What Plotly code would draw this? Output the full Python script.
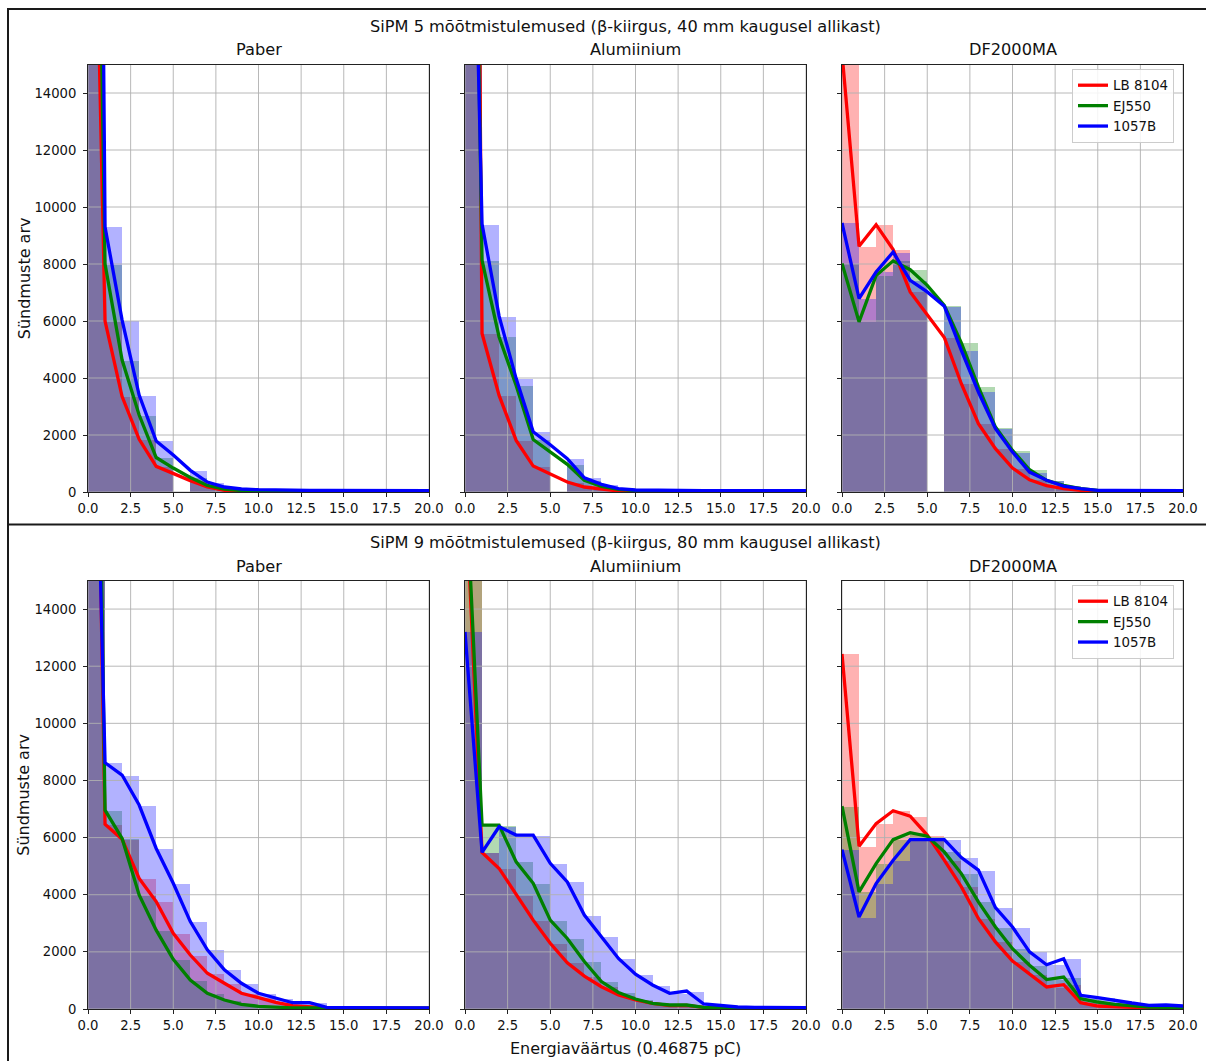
import plotly.graph_objects as go

# ---------------- data ----------------
bin_edges = list(range(21))          # histogram bin left edges (width 1) / line x positions
x_ticks = [0, 2.5, 5, 7.5, 10, 12.5, 15, 17.5, 20]
x_tick_labels = ["0.0", "2.5", "5.0", "7.5", "10.0", "12.5", "15.0", "17.5", "20.0"]
y_ticks = [0, 2000, 4000, 6000, 8000, 10000, 12000, 14000]
y_tick_labels = ["0", "2000", "4000", "6000", "8000", "10000", "12000", "14000"]

series_names = ["LB 8104", "EJ550", "1057B"]
materials = ["Paber", "Alumiinium", "DF2000MA"]
row_titles = ["SiPM 5 mõõtmistulemused (β-kiirgus, 40 mm kaugusel allikast)",
              "SiPM 9 mõõtmistulemused (β-kiirgus, 80 mm kaugusel allikast)"]
y_label = "Sündmuste arv"
x_label = "Energiaväärtus (0.46875 pC)"

# SiPM 5 (40 mm)
sipm5_paber_lb8104 = [33500, 6000, 3350, 1850, 900, 640, 400, 175, 60, 30, 25, 20, 20, 20, 20, 20, 20, 20, 20, 20, 20]
sipm5_paber_ej550 = [45000, 8000, 4630, 2700, 1210, 840, 510, 230, 105, 50, 40, 35, 30, 30, 30, 30, 30, 30, 30, 30, 30]
sipm5_paber_1057b = [80000, 9300, 6030, 3400, 1790, 1300, 760, 350, 175, 105, 80, 65, 60, 55, 55, 50, 50, 50, 50, 50, 50]

sipm5_alum_lb8104 = [80000, 5560, 3390, 1810, 910, 620, 350, 175, 95, 35, 30, 25, 20, 20, 20, 20, 20, 20, 20, 20, 20]
sipm5_alum_ej550 = [45000, 8130, 5440, 3740, 1840, 1400, 970, 410, 200, 95, 50, 40, 35, 30, 30, 30, 30, 30, 30, 30, 30]
sipm5_alum_1057b = [35000, 9400, 6170, 3980, 2110, 1660, 1170, 500, 270, 120, 70, 60, 55, 55, 50, 50, 50, 50, 50, 50, 50]

sipm5_df_lb8104 = [15400, 8620, 9380, 8510, 7020, 6200, 5420, 3800, 2400, 1520, 840, 430, 220, 115, 60, 35, 30, 25, 25, 25, 25]
sipm5_df_ej550 = [8020, 5970, 7600, 8110, 7800, 7250, 6550, 5230, 3690, 2280, 1460, 780, 410, 235, 115, 60, 50, 45, 40, 40, 40]
sipm5_df_1057b = [9440, 6790, 7720, 8420, 7430, 7020, 6520, 4970, 3510, 2220, 1400, 700, 410, 210, 115, 60, 55, 50, 50, 50, 50]

sipm5_empty_bins = [5]   # histogram bins that are empty in the SiPM 5 bars

# SiPM 9 (80 mm)
sipm9_paber_lb8104 = [40000, 6470, 5940, 4570, 3760, 2650, 1890, 1250, 900, 550, 400, 235, 120, 70, 35, 30, 30, 30, 30, 30, 30]
sipm9_paber_ej550 = [47000, 6960, 5970, 3990, 2760, 1740, 1010, 550, 315, 165, 95, 60, 40, 35, 30, 30, 30, 30, 30, 30, 30]
sipm9_paber_1057b = [33000, 8620, 8190, 7140, 5620, 4400, 3060, 2070, 1370, 900, 550, 375, 220, 220, 60, 50, 45, 45, 40, 40, 40]

sipm9_alum_lb8104 = [18700, 5480, 4920, 3990, 3110, 2300, 1620, 1150, 780, 490, 315, 200, 120, 130, 60, 40, 35, 30, 30, 30, 30]
sipm9_alum_ej550 = [19200, 6440, 6440, 5150, 4400, 3110, 2470, 1660, 960, 580, 350, 200, 140, 140, 60, 40, 35, 30, 30, 30, 30]
sipm9_alum_1057b = [13200, 5480, 6380, 6090, 6090, 5100, 4450, 3290, 2530, 1770, 1220, 840, 550, 630, 175, 120, 70, 60, 55, 50, 50]

sipm9_df_lb8104 = [12430, 5700, 6490, 6940, 6750, 6090, 5210, 4280, 3170, 2350, 1680, 1220, 770, 850, 220, 105, 80, 50, 35, 35, 35]
sipm9_df_ej550 = [7100, 4100, 5090, 5930, 6170, 6050, 5500, 4740, 3750, 2870, 2110, 1530, 1030, 1120, 360, 245, 165, 105, 70, 60, 50]
sipm9_df_1057b = [5580, 3220, 4390, 5210, 5930, 5930, 5930, 5300, 4860, 3550, 2870, 2000, 1550, 1760, 480, 400, 300, 210, 130, 140, 105]

sipm9_empty_bins = []

rows = [
    {"title": row_titles[0], "empty": sipm5_empty_bins,
     "panels": [(sipm5_paber_lb8104, sipm5_paber_ej550, sipm5_paber_1057b),
                (sipm5_alum_lb8104, sipm5_alum_ej550, sipm5_alum_1057b),
                (sipm5_df_lb8104, sipm5_df_ej550, sipm5_df_1057b)]},
    {"title": row_titles[1], "empty": sipm9_empty_bins,
     "panels": [(sipm9_paber_lb8104, sipm9_paber_ej550, sipm9_paber_1057b),
                (sipm9_alum_lb8104, sipm9_alum_ej550, sipm9_alum_1057b),
                (sipm9_df_lb8104, sipm9_df_ej550, sipm9_df_1057b)]},
]

# ---------------- style / geometry ----------------
W, H = 1206, 1061
FONT = "DejaVu Sans"
TXT = "#111111"
TICK_SIZE = 13.2
TITLE_SIZE = 16.2
line_colors = ["#ff0000", "#008000", "#0000ff"]
bar_colors = ["rgba(255,0,0,0.3)", "rgba(0,128,0,0.3)", "rgba(0,0,255,0.3)"]
X_RANGE = [0, 20]
Y_RANGE = [0, 15000]

panel_x_px = [(88, 429), (465, 806), (842, 1183)]
row_y_px = [(64.5, 492), (580.5, 1009)]
row_title_y = [26, 542]
panel_title_y = [50, 566]
legend_top_px = [69, 585]


def px_x(p):
    return p / W


def px_y(p):
    return 1 - p / H


fig = go.Figure()
layout_axes = {}
annotations = []

for r, row in enumerate(rows):
    y0, y1 = row_y_px[r]
    for c, series in enumerate(row["panels"]):
        idx = r * 3 + c + 1
        sfx = "" if idx == 1 else str(idx)
        xa, ya = "x" + sfx, "y" + sfx
        x0p, x1p = panel_x_px[c]

        # histogram bars
        for s, vals in enumerate(series):
            heights = [0 if i in row["empty"] else v for i, v in enumerate(vals)]
            fig.add_trace(go.Bar(
                x=[e + 0.5 for e in bin_edges], y=heights, width=1,
                marker=dict(color=bar_colors[s], line=dict(width=0)),
                xaxis=xa, yaxis=ya, showlegend=False, hoverinfo="skip"))

        # grid (drawn above the bars, below the lines, like matplotlib)
        gx, gy = [], []
        for t in x_ticks:
            gx += [t, t, None]
            gy += [Y_RANGE[0], Y_RANGE[1], None]
        for t in y_ticks:
            gx += [X_RANGE[0], X_RANGE[1], None]
            gy += [t, t, None]
        fig.add_trace(go.Scatter(x=gx, y=gy, mode="lines",
                                 line=dict(color="#b0b0b0", width=0.9),
                                 xaxis=xa, yaxis=ya, showlegend=False, hoverinfo="skip"))

        # lines
        for s, vals in enumerate(series):
            fig.add_trace(go.Scatter(
                x=bin_edges, y=vals, mode="lines", name=series_names[s],
                line=dict(color=line_colors[s], width=3.3),
                xaxis=xa, yaxis=ya,
                showlegend=(c == 2),
                legend=("legend" if r == 0 else "legend2"),
                hoverinfo="skip"))

        common = dict(showgrid=False, zeroline=False, showline=True, mirror=True,
                      automargin=False,
                      linecolor="#222222", linewidth=1, ticks="outside", ticklen=4,
                      tickcolor="#222222", tickwidth=1,
                      tickfont=dict(family=FONT, size=TICK_SIZE, color=TXT))
        layout_axes["xaxis" + sfx] = dict(
            common, domain=[px_x(x0p), px_x(x1p)], anchor=ya, range=X_RANGE,
            tickmode="array", tickvals=x_ticks, ticktext=x_tick_labels)
        layout_axes["yaxis" + sfx] = dict(
            common, domain=[px_y(y1), px_y(y0)], anchor=xa, range=Y_RANGE,
            tickmode="array", tickvals=y_ticks, ticktext=y_tick_labels,
            ticklabelstandoff=4, showticklabels=(c == 0))

        annotations.append(dict(
            text=materials[c], x=px_x((x0p + x1p) / 2), y=px_y(panel_title_y[r]),
            xref="paper", yref="paper", xanchor="center", yanchor="middle",
            showarrow=False, font=dict(family=FONT, size=TITLE_SIZE, color=TXT)))

    annotations.append(dict(
        text=row["title"], x=px_x(625), y=px_y(row_title_y[r]),
        xref="paper", yref="paper", xanchor="center", yanchor="middle",
        showarrow=False, font=dict(family=FONT, size=TITLE_SIZE, color=TXT)))
    annotations.append(dict(
        text=y_label, x=px_x(24), y=px_y((y0 + y1) / 2), textangle=-90,
        xref="paper", yref="paper", xanchor="center", yanchor="middle",
        showarrow=False, font=dict(family=FONT, size=16, color=TXT)))

annotations.append(dict(
    text=x_label, x=px_x(625), y=px_y(1048),
    xref="paper", yref="paper", xanchor="center", yanchor="middle",
    showarrow=False, font=dict(family=FONT, size=16, color=TXT)))

legend_style = dict(xanchor="left", yanchor="top", bgcolor="rgba(255,255,255,0.85)",
                    bordercolor="#cccccc", borderwidth=1, itemwidth=30,
                    tracegroupgap=0, font=dict(family=FONT, size=13.4, color=TXT))

shapes = [
    dict(type="line", xref="paper", yref="paper", x0=px_x(8), x1=px_x(8), y0=px_y(8), y1=px_y(H),
         line=dict(color="#1a1a1a", width=2)),
    dict(type="line", xref="paper", yref="paper", x0=px_x(8), x1=1, y0=px_y(9), y1=px_y(9),
         line=dict(color="#1a1a1a", width=2)),
    dict(type="line", xref="paper", yref="paper", x0=px_x(8), x1=1, y0=px_y(524.5), y1=px_y(524.5),
         line=dict(color="#1a1a1a", width=2)),
]

fig.update_layout(
    width=W, height=H, margin=dict(l=0, r=0, t=0, b=0, pad=0, autoexpand=False),
    paper_bgcolor="white", plot_bgcolor="white",
    barmode="overlay", bargap=0,
    font=dict(family=FONT, color=TXT),
    annotations=annotations, shapes=shapes,
    legend=dict(legend_style, x=px_x(1072), y=px_y(legend_top_px[0])),
    legend2=dict(legend_style, x=px_x(1072), y=px_y(legend_top_px[1])),
    **layout_axes)

fig.write_html("out.html")
